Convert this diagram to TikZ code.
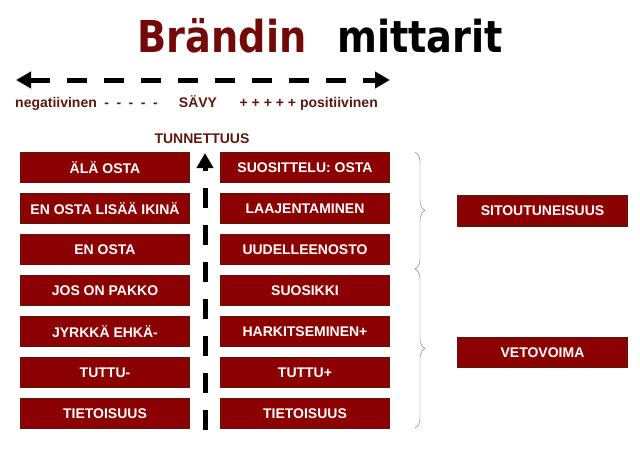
\documentclass[tikz,border=0pt]{standalone}
\usepackage{fontspec}
\setmainfont{Liberation Sans}
\newfontfamily\titlefont{DejaVu Sans}[FakeStretch=0.87]
\usetikzlibrary{positioning,arrows.meta,decorations.pathreplacing}
\definecolor{boxred}{RGB}{139,0,0}
\definecolor{boxedge}{RGB}{90,25,10}
\definecolor{labelbrown}{RGB}{90,25,15}
\definecolor{titlered}{RGB}{115,10,10}
\definecolor{bracegray}{RGB}{110,110,110}
\tikzset{
	>={Triangle[length=15pt,width=16pt]},
	mittari/.style={
		rectangle,
		fill=boxred,
		draw=boxedge, line width=1.2pt,
		minimum width=169pt,
		minimum height=30pt,
		inner sep=0pt,
		text=white,
		font=\bfseries\fontsize{14}{16}\selectfont},
	otsikko/.style={anchor=base, inner sep=0pt,
		font=\titlefont\bfseries\fontsize{44}{48}\selectfont},
	selite/.style={text=labelbrown, inner sep=0pt,
		font=\bfseries\fontsize{14}{16}\selectfont},
	akseli/.style={draw, line width=5pt, dash pattern=on 20pt off 17pt},
	sulku/.style={decorate, decoration={brace, amplitude=10pt},
		draw=bracegray, thin},
}
\newcommand*\valiviiva{\hspace{7.5pt}-}

\begin{document}
\begin{tikzpicture}[x=1pt,y=-1pt,node distance=9.8pt]
\useasboundingbox (0,0) rectangle (640,450);

% otsikko
\node[otsikko, text=titlered] (brandin) at (222,52) {Brändin};
\node[otsikko, text=black] (mittarit) at (420,52) {mittarit};

% savy-akseli
\coordinate (neg) at (16,80);
\coordinate (pos) at (390,80);
\draw[akseli, <->] (neg) -- (pos);
\node[selite, anchor=base west] (negatiivinen) at (15,107)
	{negatiivinen\valiviiva\valiviiva\valiviiva\valiviiva\valiviiva};
\node[selite, anchor=base] (savy) at (198,107) {SÄVY};
\node[selite, anchor=base east] (positiivinen) at (378,107) {+ + + + + positiivinen};

% tunnettuus-akseli
\node[selite, anchor=base] (tunnettuus) at (202,143) {TUNNETTUUS};
\coordinate (pohja) at (205,430);
\coordinate (huippu) at (205,153);
\draw[akseli, ->] (pohja) -- (huippu);

% vasen sarake
\node[mittari] (ala) at (105,167.5) {ÄLÄ OSTA};
\node[mittari, below=of ala] (enlisaa) {EN OSTA LISÄÄ IKINÄ};
\node[mittari, below=of enlisaa] (enosta) {EN OSTA};
\node[mittari, below=of enosta] (pakko) {JOS ON PAKKO};
\node[mittari, below=of pakko] (ehka) {JYRKKÄ EHKÄ-};
\node[mittari, below=of ehka] (tuttumiinus) {TUTTU-};
\node[mittari, below=of tuttumiinus] (tietoisuusvas) {TIETOISUUS};

% oikea sarake
\node[mittari] (suosittelu) at (305,167.5) {SUOSITTELU: OSTA};
\node[mittari, below=of suosittelu] (laajentaminen) {LAAJENTAMINEN};
\node[mittari, below=of laajentaminen] (uudelleen) {UUDELLEENOSTO};
\node[mittari, below=of uudelleen] (suosikki) {SUOSIKKI};
\node[mittari, below=of suosikki] (harkitseminen) {HARKITSEMINEN+};
\node[mittari, below=of harkitseminen] (tuttuplus) {TUTTU+};
\node[mittari, below=of tuttuplus] (tietoisuusoik) {TIETOISUUS};

% ryhmat
\coordinate (sulku1a) at (415,152);
\coordinate (sulku1b) at (415,269);
\coordinate (sulku2b) at (415,428);
\draw[sulku] (sulku1a) -- (sulku1b);
\draw[sulku] (sulku1b) -- (sulku2b);
\node[mittari, minimum width=170pt] (sitoutuneisuus) at (542.5,211) {SITOUTUNEISUUS};
\node[mittari, minimum width=170pt] (vetovoima) at (542.5,352.5) {VETOVOIMA};
\end{tikzpicture}
\end{document}
